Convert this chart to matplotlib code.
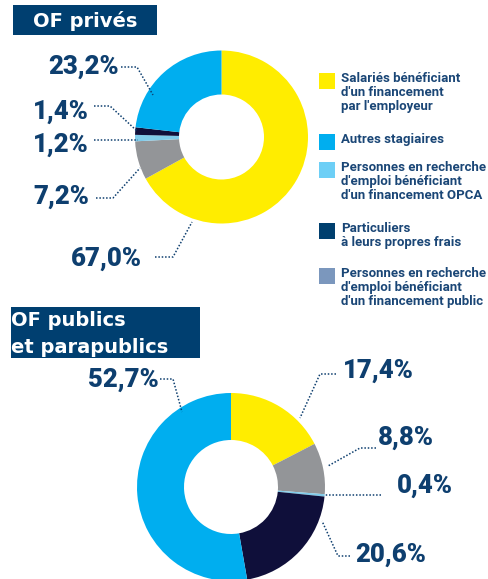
import matplotlib.pyplot as plt
from matplotlib.patches import Rectangle

W, H = 489, 579

# categories (legend order)
categories = [
    "Salariés bénéficiant\nd'un financement\npar l'employeur",
    "Autres stagiaires",
    "Personnes en recherche\nd'emploi bénéficiant\nd'un financement OPCA",
    "Particuliers\nà leurs propres frais",
    "Personnes en recherche\nd'emploi bénéficiant\nd'un financement public",
]
legend_colors = ["#FFED00", "#00AEEF", "#6DCFF6", "#003F6E", "#7B97BD"]

# slices clockwise from 12 o'clock: salariés, public, OPCA, particuliers, autres
slice_colors = ["#FFED00", "#939598", "#7FCBEA", "#0F0F3A", "#00AEEF"]
prives = [67.0, 7.2, 1.2, 1.4, 23.2]
publics = [17.4, 8.8, 0.4, 20.6, 52.7]

navy = "#0E3F6F"
box_col = "#003F70"
pct_font = dict(family=["Roboto", "DejaVu Sans"], fontweight="heavy", fontsize=18.5, color=navy)
title_font = dict(family="DejaVu Sans", fontweight="bold", fontsize=14, color="white")

fig = plt.figure(figsize=(W / 100, H / 100), dpi=100)
ax = fig.add_axes([0, 0, 1, 1])


def fmt(v):
    return f"{v:.1f}%".replace(".", ",")


def leader(pts):
    xs = [p[0] for p in pts]
    ys = [H - p[1] for p in pts]
    ax.plot(xs, ys, linestyle=(0, (1, 1.2)), color=navy, lw=1.1)


# donuts
ax.pie(prives, colors=slice_colors, startangle=90, counterclock=False,
       center=(221.5, H - 137), radius=86.5,
       wedgeprops=dict(width=44, linewidth=0))
ax.pie(publics, colors=slice_colors, startangle=90, counterclock=False,
       center=(231, H - 487), radius=94,
       wedgeprops=dict(width=47, linewidth=0))

# labels top chart (right aligned): x, baseline, leader
top_layout = [
    (142, 266, [(155, 257), (173, 257), (192, 222)]),
    (89, 204, [(96, 198), (113, 198), (140, 168)]),
    (89, 152, [(94, 140), (138, 140)]),
    (89, 119, [(94, 106), (110, 106), (137, 131)]),
    (119, 74, [(121, 67), (137, 67), (153, 95)]),
]
for v, (x, yb, pts) in zip(prives, top_layout):
    ax.text(x, H - yb, fmt(v), ha="right", va="baseline", **pct_font)
    leader(pts)

# labels bottom chart
bot_layout = [
    (343, 378, "left", [(336, 374), (320, 374), (300, 418)]),
    (378, 445, "left", [(376, 448), (360, 448), (328, 466)]),
    (397, 493, "left", [(381, 495), (325, 495)]),
    (355, 562, "left", [(350, 556), (338, 556), (322, 521)]),
    (159, 387, "right", [(160, 379), (173, 379), (182, 412)]),
]
for v, (x, yb, ha, pts) in zip(publics, bot_layout):
    ax.text(x, H - yb, fmt(v), ha=ha, va="baseline", **pct_font)
    leader(pts)

# title boxes
ax.add_patch(Rectangle((13, H - 35), 144, 30, color=box_col, lw=0))
ax.text(33, H - 27, "OF privés", va="baseline", **title_font)
ax.add_patch(Rectangle((11, H - 358), 189, 51, color=box_col, lw=0))
ax.text(11, H - 326, "OF publics", va="baseline", **title_font)
ax.text(11, H - 353, "et parapublics", va="baseline", **title_font)

# legend
leg_tops = [73, 134, 162, 223, 268]
for lab, col, yt in zip(categories, legend_colors, leg_tops):
    ax.add_patch(Rectangle((319, H - yt - 16), 16, 16, color=col, lw=0))
    ax.text(341, H - yt + 1, lab, ha="left", va="top", fontsize=9.5,
            family=["Roboto", "DejaVu Sans"], fontweight="bold",
            color="#1A4676", linespacing=1.12)

ax.set_xlim(0, W)
ax.set_ylim(0, H)
ax.set_aspect("auto")
ax.axis("off")

fig.savefig("out.png", dpi=100)
